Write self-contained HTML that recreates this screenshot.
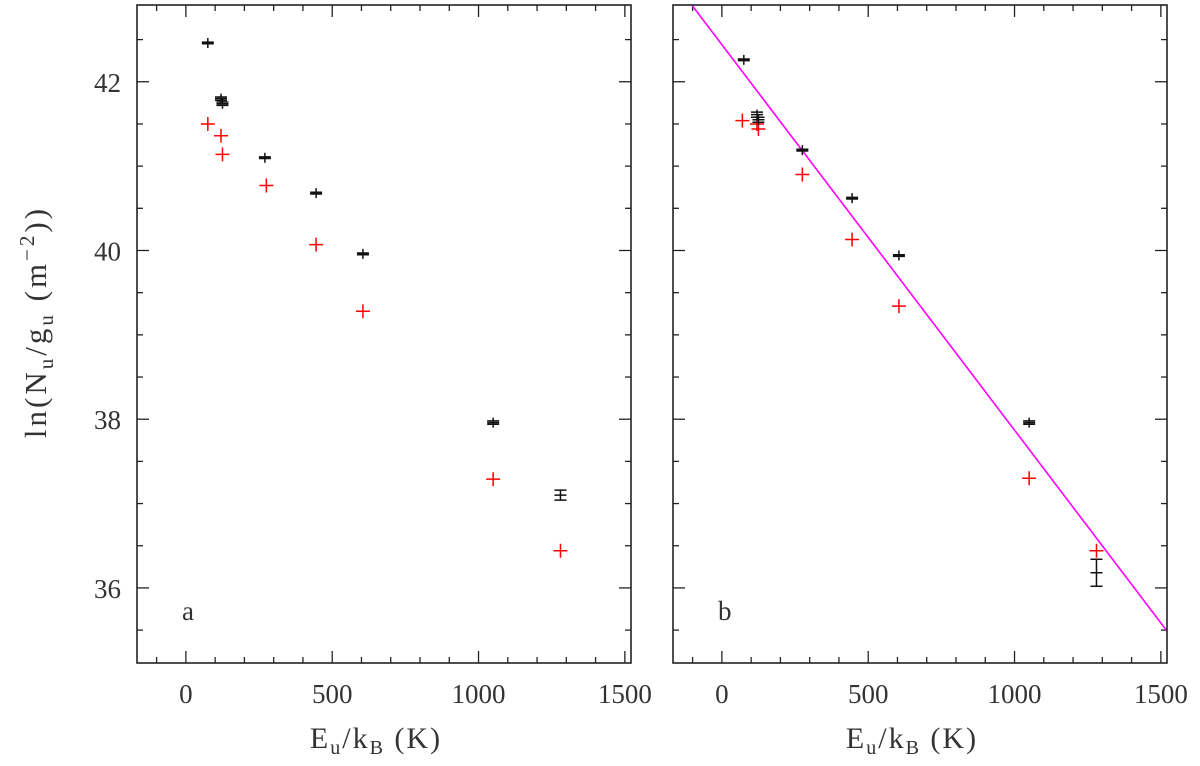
<!DOCTYPE html>
<html><head><meta charset="utf-8"><style>
body{margin:0;background:#fff}
svg text{font-family:"Liberation Serif",serif;fill:#333}
</style></head><body>
<svg id="chart" width="1200" height="761" viewBox="0 0 1200 761" xmlns="http://www.w3.org/2000/svg"></svg>
<script>
const xTicks=[0,500,1000,1500];
const yTicks=[36,38,40,42];
const aBlackX=[75,120,125,270,445,605,1050,1280];
const aBlackY=[42.46,41.80,41.74,41.10,40.68,39.96,37.96,37.10];
const aBlackErr=[0.01,0.02,0.02,0.01,0.01,0.01,0.02,0.06];
const aRedX=[75,120,125,275,445,605,1050,1280];
const aRedY=[41.50,41.36,41.14,40.77,40.07,39.28,37.29,36.44];
const bBlackX=[75,120,125,275,445,605,1050,1280];
const bBlackY=[42.26,41.61,41.55,41.19,40.62,39.94,37.96,36.18];
const bBlackErr=[0.01,0.03,0.03,0.01,0.01,0.01,0.02,0.16];
const bRedX=[70,120,125,275,445,605,1050,1280];
const bRedY=[41.54,41.50,41.44,40.90,40.13,39.34,37.30,36.44];
const fitSlope=-0.00457, fitIntercept=42.44;

const svg=document.getElementById('chart');
const NS='http://www.w3.org/2000/svg';
const XMIN=-167,XMAX=1521,YMIN=35.11,YMAX=42.91,TOP=5,BOT=663,W=494;
function mk(tag,attrs,parent){const e=document.createElementNS(NS,tag);for(const k in attrs)e.setAttribute(k,attrs[k]);(parent||svg).appendChild(e);return e;}
function panel(left,label,bx,by,be,rx,ry,fit){
  const g=mk('g',{});
  
  
  const X=v=>left+(v-XMIN)/(XMAX-XMIN)*W;
  const Y=v=>BOT-(v-YMIN)/(YMAX-YMIN)*(BOT-TOP);
  for(let v=-100;v<=1500;v+=100){
    const major=v%500===0,len=major?12:6;
    mk('line',{x1:X(v),x2:X(v),y1:BOT,y2:BOT-len,stroke:'#222','stroke-width':1.3},g);
    mk('line',{x1:X(v),x2:X(v),y1:TOP,y2:TOP+len,stroke:'#222','stroke-width':1.3},g);
  }
  for(let v=35.5;v<=42.5;v+=0.5){
    const major=v%2===0,len=major?12:6;
    mk('line',{x1:left,x2:left+len,y1:Y(v),y2:Y(v),stroke:'#222','stroke-width':1.3},g);
    mk('line',{x1:left+W,x2:left+W-len,y1:Y(v),y2:Y(v),stroke:'#222','stroke-width':1.3},g);
  }
  xTicks.forEach(v=>{const t=mk('text',{x:X(v),y:703,'font-size':27,'text-anchor':'middle'},g);t.textContent=v;
    
    });
  if(label==='a'){yTicks.forEach(v=>{const t=mk('text',{x:left-16,y:Y(v)+10,'font-size':27,'text-anchor':'end'},g);t.textContent=v;
    
    });}
  if(fit){
    const clip=mk('clipPath',{id:'clip'+label},g);mk('rect',{x:left,y:TOP,width:W,height:BOT-TOP},clip);
    const l=mk('line',{x1:X(XMIN),y1:Y(fitIntercept+fitSlope*XMIN),x2:X(XMAX),y2:Y(fitIntercept+fitSlope*XMAX),stroke:'#f0f','stroke-width':1.6,'clip-path':'url(#clip'+label+')'},g);
    
    
  }
  rx.forEach((x,i)=>{const p=mk('path',{d:`M${X(x)-7},${Y(ry[i])}h14M${X(x)},${Y(ry[i])-7}v14`,stroke:'#f00','stroke-width':1.5},g);
    
    });
  bx.forEach((x,i)=>{const cx=X(x),cy=Y(by[i]),y1=Y(by[i]+be[i]),y2=Y(by[i]-be[i]);
    const p=mk('path',{d:`M${cx-6},${cy}h12M${cx},${Math.min(y1,cy-5)}V${Math.max(y2,cy+5)}M${cx-6},${y1}h12M${cx-6},${y2}h12`,stroke:'#111','stroke-width':1.5},g);
    
    });
  mk('rect',{x:left,y:TOP,width:W,height:BOT-TOP,fill:'none',stroke:'#222','stroke-width':1.6},g);
  const pl=mk('text',{x:left+45,y:620,'font-size':27},g);pl.textContent=label;
  
  
  const xt=mk('text',{x:left+W/2-8,y:748,'font-size':30,'letter-spacing':2,'text-anchor':'middle'},g);
  xt.innerHTML='E<tspan font-size="20" dy="6">u</tspan><tspan dy="-6">/k</tspan><tspan font-size="20" dy="6">B</tspan><tspan dy="-6"> (K)</tspan>';
  
  
}
panel(137,'a',aBlackX,aBlackY,aBlackErr,aRedX,aRedY,false);
panel(673,'b',bBlackX,bBlackY,bBlackErr,bRedX,bRedY,true);
const yt=mk('text',{x:0,y:0,'font-size':31,'letter-spacing':3,'text-anchor':'middle',transform:'translate(46,322) rotate(-90)'});
yt.innerHTML='ln(N<tspan font-size="21" dy="7">u</tspan><tspan dy="-7">/g</tspan><tspan font-size="21" dy="7">u</tspan><tspan dy="-7">  (m</tspan><tspan font-size="21" dy="-12">−2</tspan><tspan dy="12">))</tspan>';


</script>
</body></html>
